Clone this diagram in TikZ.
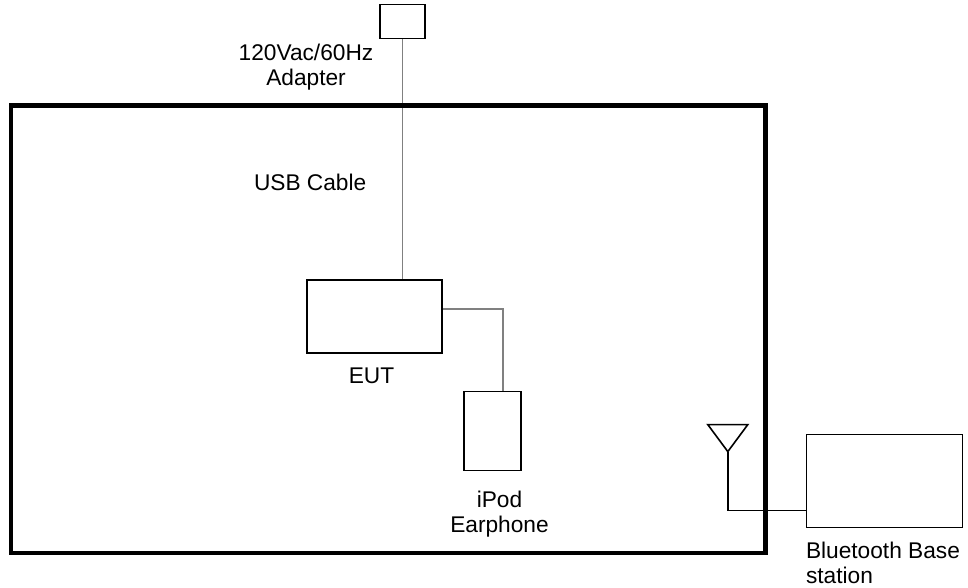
\documentclass[tikz,border=0pt]{standalone}
\usepackage{fontspec}
\setmainfont{Liberation Sans}
\usetikzlibrary{positioning}

\begin{document}
\begin{tikzpicture}[x=1pt, y=1pt,
    box/.style={draw, line width=1.6pt, inner sep=0pt},
    cable/.style={draw=black!50, line width=1.2pt},
    wire/.style={draw, line width=1.6pt, line join=miter},
    room/.style={draw, line width=4.5pt},
    tag/.style={inner sep=0pt, font=\fontsize{22.7}{25}\selectfont}]
  \useasboundingbox (0,0) rectangle (968,-587);
  \node [box, minimum width=135pt, minimum height=73pt] (eut) at (374.5,-316.5) {};
  \node [box, minimum width=45pt, minimum height=34pt, above=240pt of eut, xshift=28pt] (adapter) {};
  \node [box, minimum width=57pt, minimum height=79pt, below=37pt of eut, xshift=118pt] (ipod) {};
  \node [box, minimum width=156pt, minimum height=93pt, right=284pt of ipod, yshift=-50pt] (base) {};
  \node [tag, align=center, below=4.5pt of adapter.south, xshift=-96.5pt] (adapterlbl) {120Vac/60Hz\\Adapter};
  \node [tag, below left=135pt and 36pt of adapter.south] (usblbl) {USB Cable};
  \node [tag, below=14pt of eut, xshift=-3pt] (eutlbl) {EUT};
  \node [tag, align=center, below=19pt of ipod, xshift=7pt] (ipodlbl) {iPod\\Earphone};
  \node [tag, align=left, below=13pt of base.south west, anchor=north west] (baselbl) {Bluetooth Base\\station};
  \coordinate [left=78pt of base.west, yshift=29.5pt] (ant);
  % cables
  \draw [cable] (adapter.south) -- (adapter.south |- eut.north);
  \draw [cable] ([yshift=7.5pt]eut.east) -| ([xshift=10.5pt]ipod.north);
  % antenna
  \draw [wire] (ant) -- ++(-20,27) -- ++(40,0) -- cycle;
  \draw [wire] (ant) |- ([yshift=-29.5pt]base.west);
  % test room
  \draw [room] (11,-105.5) rectangle (765.5,-553);
\end{tikzpicture}
\end{document}
